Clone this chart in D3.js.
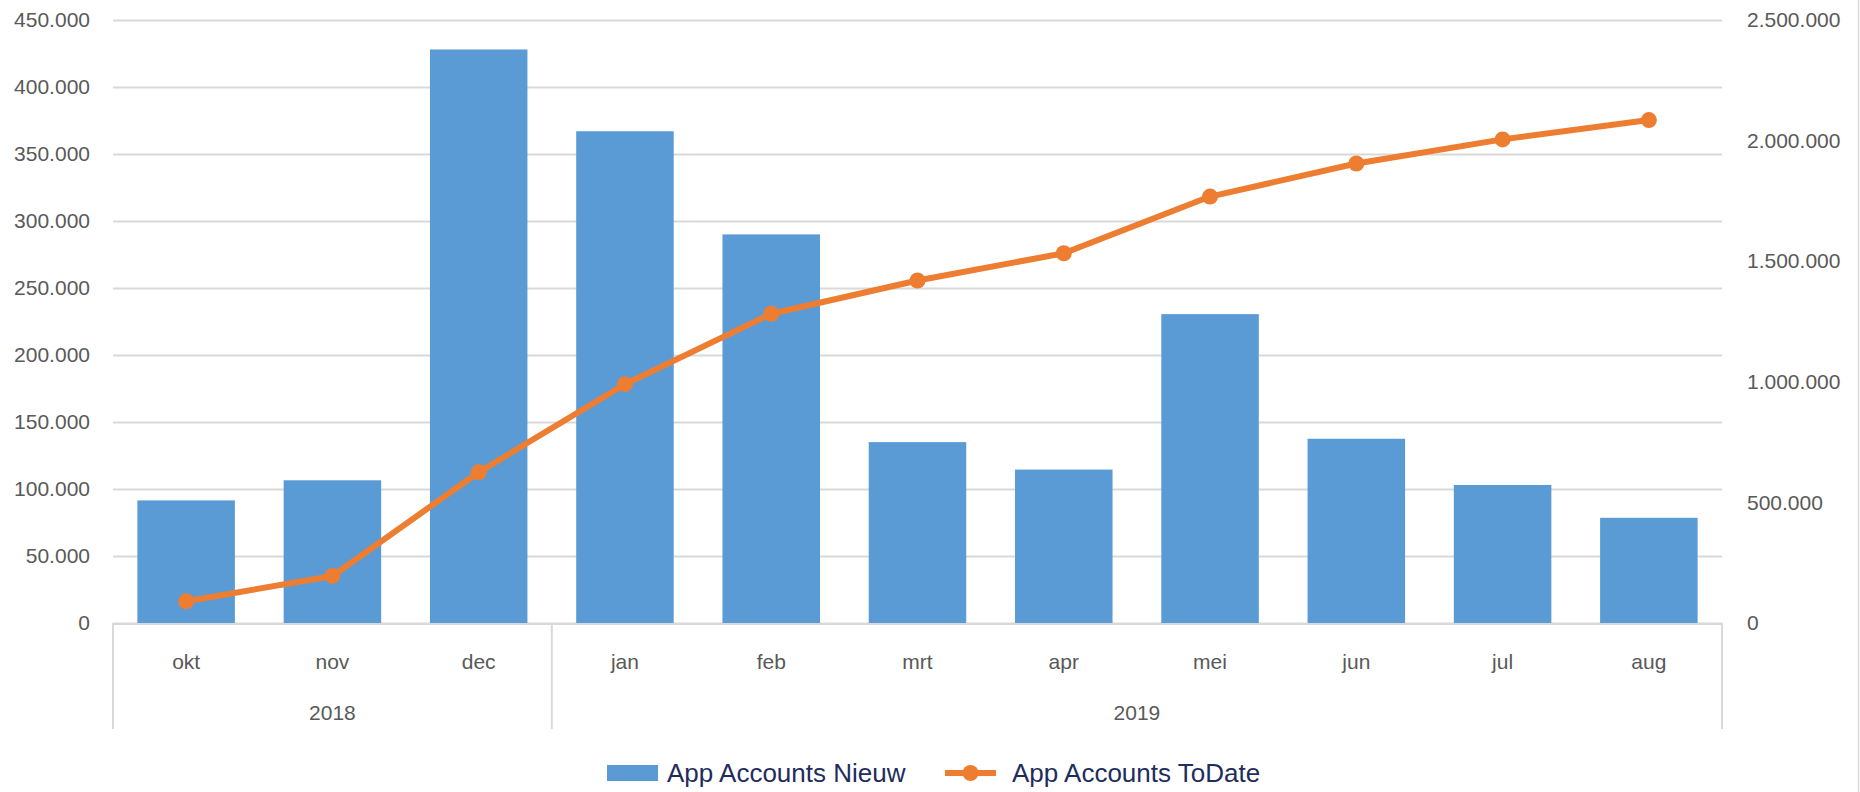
<!DOCTYPE html>
<html>
<head>
<meta charset="utf-8">
<script src="https://cdn.jsdelivr.net/npm/d3@7"></script>
<style>
  html, body { margin: 0; padding: 0; background: #fff; }
  svg { display: block; }
  text { font-family: "Liberation Sans", Arial, sans-serif; }
</style>
</head>
<body>
<svg id="chart" width="1860" height="792"></svg>
<script>
// ---- data ----
const months = ["okt", "nov", "dec", "jan", "feb", "mrt", "apr", "mei", "jun", "jul", "aug"];
const years = [
  { label: "2018", from: "okt", to: "dec" },
  { label: "2019", from: "jan", to: "aug" }
];
const nieuw = [91500, 106500, 428000, 367000, 290000, 135000, 114500, 230500, 137500, 103000, 78500];
const toDate = [90000, 195000, 625000, 990000, 1282000, 1420000, 1533000, 1768000, 1905000, 2005000, 2085000];
const leftTicks = [0, 50000, 100000, 150000, 200000, 250000, 300000, 350000, 400000, 450000];
const rightTicks = [0, 500000, 1000000, 1500000, 2000000, 2500000];
const seriesNames = ["App Accounts Nieuw", "App Accounts ToDate"];

// ---- layout ----
const W = 1860, H = 792;
const plot = { left: 113, right: 1722, top: 20, bottom: 623 };
const barColor = "#5b9bd5", lineColor = "#ed7d31";
const gridColor = "#d9d9d9", labelColor = "#595959";
const fontSize = 21;
const fontFam = '"Liberation Sans", Arial, sans-serif';

const nl = d3.formatLocale({ decimal: ",", thousands: ".", grouping: [3], currency: ["€", ""] });
const fmt = nl.format(",d");

const svg = d3.select("#chart");

const x = d3.scaleBand().domain(months).range([plot.left, plot.right])
  .paddingInner(1/3).paddingOuter(1/6);
const yL = d3.scaleLinear().domain([0, 450000]).range([plot.bottom, plot.top]);
const yR = d3.scaleLinear().domain([0, 2500000]).range([plot.bottom, plot.top]);

// right border
svg.append("line").attr("x1", 1858.5).attr("x2", 1858.5).attr("y1", 0).attr("y2", H)
  .attr("stroke", "#d9d9d9").attr("stroke-width", 1.5);

// gridlines (left axis)
const gL = svg.append("g").attr("transform", `translate(${plot.left},0)`)
  .call(d3.axisLeft(yL).tickValues(leftTicks).tickFormat(fmt)
    .tickSize(-(plot.right - plot.left)).tickPadding(23));
gL.select(".domain").remove();
gL.selectAll(".tick line").attr("stroke", gridColor).attr("stroke-width", 2);
gL.selectAll(".tick text").attr("fill", labelColor).attr("font-size", fontSize)
  .style("font-family", fontFam);

// right axis (labels only)
const gR = svg.append("g").attr("transform", `translate(${plot.right},0)`)
  .call(d3.axisRight(yR).tickValues(rightTicks).tickFormat(fmt).tickSize(0).tickPadding(25));
gR.select(".domain").remove();
gR.selectAll(".tick text").attr("fill", labelColor).attr("font-size", fontSize)
  .style("font-family", fontFam);

// bars
svg.append("g").selectAll("rect").data(months).join("rect")
  .attr("x", d => x(d))
  .attr("width", x.bandwidth())
  .attr("y", (d, i) => yL(nieuw[i]))
  .attr("height", (d, i) => yL(0) - yL(nieuw[i]))
  .attr("fill", barColor);

// category axis
svg.append("line").attr("x1", plot.left).attr("x2", plot.right)
  .attr("y1", plot.bottom + 1).attr("y2", plot.bottom + 1)
  .attr("stroke", gridColor).attr("stroke-width", 2);

const step = x.step();
const sepBottom = 729;
const bounds = [plot.left, x(years[1].from) - x.paddingInner() * step / 2, plot.right];
svg.append("g").selectAll("line").data(bounds).join("line")
  .attr("x1", d => d).attr("x2", d => d)
  .attr("y1", plot.bottom).attr("y2", sepBottom)
  .attr("stroke", gridColor).attr("stroke-width", 2);

svg.append("g").selectAll("text").data(months).join("text")
  .attr("x", d => x(d) + x.bandwidth() / 2)
  .attr("y", 661)
  .attr("text-anchor", "middle").attr("dominant-baseline", "central")
  .attr("fill", labelColor).attr("font-size", fontSize)
  .text(d => d);

svg.append("g").selectAll("text").data(years).join("text")
  .attr("x", d => {
    const a = x(d.from) - x.paddingInner() * step / 2;
    const b = x(d.to) + x.bandwidth() + x.paddingInner() * step / 2;
    return ((d.from === months[0] ? plot.left : a) + (d.to === months[months.length - 1] ? plot.right : b)) / 2;
  })
  .attr("y", 712)
  .attr("text-anchor", "middle").attr("dominant-baseline", "central")
  .attr("fill", labelColor).attr("font-size", fontSize)
  .text(d => d.label);

// line
const line = d3.line()
  .x((d, i) => x(months[i]) + x.bandwidth() / 2)
  .y(d => yR(d));
svg.append("path").datum(toDate)
  .attr("d", line)
  .attr("fill", "none").attr("stroke", lineColor).attr("stroke-width", 6)
  .attr("stroke-linejoin", "round");
svg.append("g").selectAll("circle").data(toDate).join("circle")
  .attr("cx", (d, i) => x(months[i]) + x.bandwidth() / 2)
  .attr("cy", d => yR(d))
  .attr("r", 8)
  .attr("fill", lineColor);

// legend
const legY = 773;
const leg = svg.append("g");
leg.append("rect").attr("x", 607).attr("y", legY - 8).attr("width", 51).attr("height", 16).attr("fill", barColor);
leg.append("text").attr("x", 667).attr("y", legY).attr("dominant-baseline", "central")
  .attr("fill", "#1f2d5c").attr("font-size", 26).text(seriesNames[0]);
leg.append("line").attr("x1", 945).attr("x2", 996).attr("y1", legY).attr("y2", legY)
  .attr("stroke", lineColor).attr("stroke-width", 6);
leg.append("circle").attr("cx", 970.5).attr("cy", legY).attr("r", 8).attr("fill", lineColor);
leg.append("text").attr("x", 1012).attr("y", legY).attr("dominant-baseline", "central")
  .attr("fill", "#1f2d5c").attr("font-size", 26).text(seriesNames[1]);
</script>
</body>
</html>
